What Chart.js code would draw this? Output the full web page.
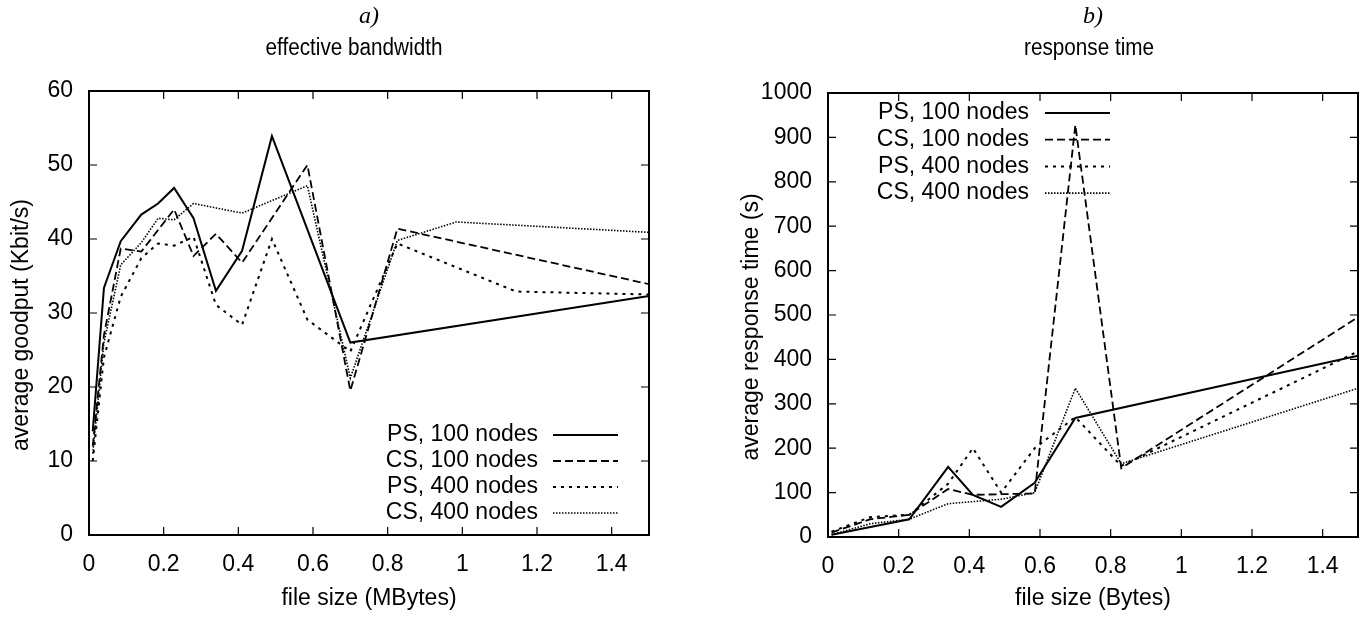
<!DOCTYPE html>
<html>
<head>
<meta charset="utf-8">
<script src="https://cdn.jsdelivr.net/npm/chart.js@4.4.0/dist/chart.umd.min.js"></script>
<style>
  body { margin: 0; background: #fff; }
  #wrap { position: relative; width: 1367px; height: 617px; }
  canvas { position: absolute; top: 0; }
</style>
</head>
<body>
<div id="wrap">
  <canvas id="bw" width="683" height="617" style="left:0"></canvas>
  <canvas id="rt" width="684" height="617" style="left:683px"></canvas>
</div>
<script>
var names = ['PS, 100 nodes', 'CS, 100 nodes', 'PS, 400 nodes', 'CS, 400 nodes'];

// a) effective bandwidth, Kbit/s
var sizesA  = [0.01, 0.04, 0.085, 0.14, 0.185, 0.228, 0.28, 0.34, 0.41, 0.49, 0.585, 0.70, 0.826, 0.984, 1.144, 1.5];
var bwPS100 = [14, 33.4, 39.7, 43.3, 44.8, 46.9, 42.8, 33.0, 38.4, 53.9, null, 26.0, null, null, null, 32.3];
var bwCS100 = [12, 27, 38.7, 38.3, null, 44.0, 37.7, 40.7, 36.8, null, 50.0, 19.5, 41.4, null, null, 33.9];
var bwPS400 = [10, 24, 32.2, 37.4, 39.4, 39.1, 40.3, 31.1, 28.4, 40.0, 29.1, 24.8, 39.4, null, 32.9, 32.5];
var bwCS400 = [11, 26, 36.5, 39.5, 42.8, 42.6, 44.8, null, 43.5, null, 47.2, 21.2, 39.8, 42.3, null, 40.9];

// b) response time, s
var sizesB  = [0.01, 0.12, 0.23, 0.34, 0.41, 0.49, 0.585, 0.70, 0.83, 1.5];
var rtPS100 = [5, null, 40, 158, 95, 68, 122, 268, null, 408];
var rtCS100 = [10, 40, 50, 108, 95, null, 98, 928, 155, 495];
var rtPS400 = [12, 45, 50, 120, 200, 100, 200, 270, 160, 418];
var rtCS400 = [5, 30, 40, 75, null, 85, 100, 335, 165, 335];

var dashes = [[], [8, 4], [3, 5], [1.5, 1.5]];
var widths = [2, 1.8, 2, 1.6];
var FONT = 'Liberation Sans';

var frame = {
  id: 'frame',
  afterDraw: function (chart, args, o) {
    var c = chart.ctx, a = chart.chartArea;
    var sx = chart.scales.x, sy = chart.scales.y;
    c.save();
    c.strokeStyle = '#000';
    c.lineWidth = 1.2;
    c.beginPath();
    sx.ticks.forEach(function (t) {
      var p = sx.getPixelForValue(t.value);
      c.moveTo(p, a.bottom); c.lineTo(p, a.bottom - 8);
      c.moveTo(p, a.top); c.lineTo(p, a.top + 8);
    });
    sy.ticks.forEach(function (t) {
      var p = sy.getPixelForValue(t.value);
      c.moveTo(a.left, p); c.lineTo(a.left + 8, p);
      c.moveTo(a.right, p); c.lineTo(a.right - 8, p);
    });
    c.stroke();
    c.lineWidth = 2;
    c.strokeRect(a.left, a.top, a.right - a.left, a.bottom - a.top);

    c.fillStyle = '#000';
    c.textAlign = 'center';
    c.textBaseline = 'middle';
    var cx = (a.left + a.right) / 2;
    c.font = 'italic 24px "Liberation Serif"';
    c.fillText(o.tag, cx, 17);

    // the plot title is set a bit condensed in the original
    c.save();
    c.font = '23px "' + FONT + '"';
    c.translate(cx + o.titleShift, 49);
    c.scale(0.9, 1);
    c.fillText(o.title, 0, 0);
    c.restore();

    // y label, a little below centre like the original
    c.save();
    c.font = '23px "' + FONT + '"';
    c.translate(o.yLabelX, (a.top + a.bottom) / 2 + 12);
    c.rotate(-Math.PI / 2);
    c.fillText(o.yTitle, 0, 0);
    c.restore();

    // key
    c.font = '23px "' + FONT + '"';
    c.textAlign = 'right';
    chart.data.datasets.forEach(function (ds, i) {
      var ry = o.keyY(a) + i * o.keyStep;
      c.fillText(ds.label, a.right - o.keyText, ry);
      c.setLineDash(ds.borderDash);
      c.lineWidth = ds.borderWidth;
      c.beginPath();
      c.moveTo(a.right - o.keyLine[0], ry);
      c.lineTo(a.right - o.keyLine[1], ry);
      c.stroke();
    });
    c.restore();
  }
};

function makeChart(id, sizes, series, o) {
  var tickFont = { family: FONT, size: 23 };
  return new Chart(document.getElementById(id), {
    type: 'line',
    data: {
      datasets: series.map(function (s, i) {
        return {
          label: names[i],
          data: sizes.map(function (x, j) { return { x: x, y: s[j] }; }),
          borderColor: '#000',
          borderWidth: widths[i],
          borderDash: dashes[i],
          pointRadius: 0,
          tension: 0,
          spanGaps: true,
          fill: false
        };
      })
    },
    options: {
      responsive: false,
      animation: false,
      devicePixelRatio: 1,
      layout: { padding: { top: o.top, right: o.right, left: 0, bottom: 0 } },
      plugins: {
        legend: { display: false },
        tooltip: { enabled: false },
        frame: o.frame
      },
      scales: {
        x: {
          type: 'linear', min: 0, max: 1.5,
          afterFit: function (s) { s.height = o.xh; },
          grid: { display: false, drawTicks: false },
          border: { display: false },
          ticks: {
            stepSize: 0.2, includeBounds: false, padding: 16,
            color: '#000', font: tickFont, maxRotation: 0,
            callback: function (v) { return String(Number(v.toFixed(1))); }
          },
          title: { display: true, text: o.xTitle, color: '#000', font: tickFont, padding: { top: 0, bottom: 5 } }
        },
        y: {
          min: 0, max: o.ymax,
          afterFit: function (s) { s.width = o.yw; },
          grid: { display: false, drawTicks: false },
          border: { display: false },
          ticks: {
            stepSize: o.ystep, padding: 16, color: '#000', font: tickFont,
            callback: function (v) { return String(v); }
          },
          title: { display: false }
        }
      }
    },
    plugins: [frame]
  });
}

makeChart('bw', sizesA, [bwPS100, bwCS100, bwPS400, bwCS400], {
  top: 91, right: 34, xh: 82, yw: 89, ymax: 60, ystep: 10,
  xTitle: 'file size (MBytes)',
  frame: {
    tag: 'a)', title: 'effective bandwidth', titleShift: -15,
    yTitle: 'average goodput (Kbit/s)', yLabelX: 22,
    keyY: function (a) { return a.bottom - 100; }, keyStep: 26,
    keyText: 111, keyLine: [96, 31]
  }
});

makeChart('rt', sizesB, [rtPS100, rtCS100, rtPS400, rtCS400], {
  top: 93, right: 9, xh: 80, yw: 145, ymax: 1000, ystep: 100,
  xTitle: 'file size (Bytes)',
  frame: {
    tag: 'b)', title: 'response time', titleShift: -4,
    yTitle: 'average response time (s)', yLabelX: 69,
    keyY: function (a) { return a.top + 20; }, keyStep: 26.7,
    keyText: 329, keyLine: [313, 248]
  }
});
</script>
</body>
</html>
